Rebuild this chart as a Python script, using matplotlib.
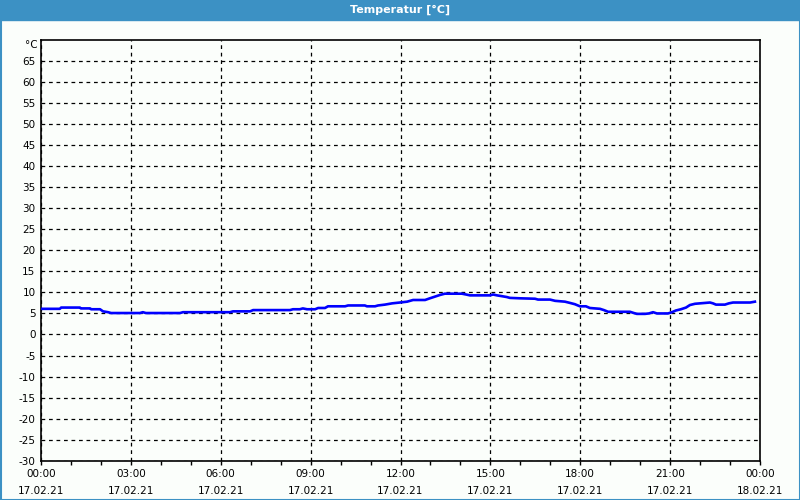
import matplotlib.pyplot as plt
from matplotlib.patches import Rectangle

# hours since 17.02.21 00:00 and temperature in degC
hours = [0.0, 0.63, 0.67, 1.30, 1.33, 1.64, 1.67, 1.97, 2.07, 2.24, 2.34,
         3.30, 3.40, 3.50, 4.64, 4.74, 6.31, 6.41, 6.98, 7.08, 8.31, 8.41,
         8.64, 8.74, 8.88, 9.15, 9.25, 9.48, 9.58, 10.15, 10.25, 10.81,
         10.88, 11.15, 11.25, 11.48, 11.72, 11.98, 12.22, 12.42, 12.82,
         12.98, 13.15, 13.32, 13.48, 14.05, 14.19, 14.32, 14.99, 15.09,
         15.22, 15.39, 15.55, 15.65, 15.99, 16.49, 16.59, 16.99, 17.16,
         17.49, 17.66, 17.82, 17.99, 18.19, 18.32, 18.66, 18.79, 18.93,
         19.66, 19.79, 19.89, 20.16, 20.29, 20.43, 20.56, 20.93, 21.06,
         21.19, 21.36, 21.53, 21.66, 21.83, 22.33, 22.43, 22.53, 22.83,
         22.96, 23.10, 23.67, 23.83]
temps = [6.1, 6.1, 6.4, 6.4, 6.2, 6.2, 6.0, 6.0, 5.5, 5.3, 5.1,
         5.1, 5.3, 5.1, 5.1, 5.3, 5.3, 5.5, 5.5, 5.8, 5.8, 6.0,
         6.0, 6.2, 6.0, 6.0, 6.3, 6.3, 6.7, 6.7, 6.9, 6.9,
         6.7, 6.7, 6.9, 7.1, 7.4, 7.6, 7.8, 8.2, 8.2,
         8.6, 9.0, 9.4, 9.7, 9.7, 9.5, 9.3, 9.3, 9.5,
         9.3, 9.1, 8.9, 8.7, 8.6, 8.5, 8.3, 8.3, 8.0,
         7.8, 7.5, 7.2, 6.7, 6.7, 6.3, 6.1, 5.8, 5.4,
         5.4, 5.1, 4.9, 4.9, 5.0, 5.3, 5.0, 5.0, 5.3,
         5.7, 6.0, 6.4, 7.0, 7.3, 7.6, 7.4, 7.1, 7.1,
         7.4, 7.6, 7.6, 7.8]

xtick_pos = [0, 3, 6, 9, 12, 15, 18, 21, 24]
xtick_labels = ['00:00\n17.02.21', '03:00\n17.02.21', '06:00\n17.02.21',
                '09:00\n17.02.21', '12:00\n17.02.21', '15:00\n17.02.21',
                '18:00\n17.02.21', '21:00\n17.02.21', '00:00\n18.02.21']
ytick_pos = list(range(-30, 70, 5))

bar_blue = '#3c91c4'
bg = '#fbfefb'

plt.rcParams['font.family'] = ['DejaVu Sans']
fig = plt.figure(figsize=(8, 5), dpi=100, facecolor=bg)

# title bar and frame
fig.patches.append(Rectangle((0, 480 / 500), 1, 20 / 500, transform=fig.transFigure,
                             color=bar_blue, zorder=0))
fig.patches.append(Rectangle((0.5 / 800, 0.5 / 500), 799 / 800, 499 / 500,
                             transform=fig.transFigure, fill=False,
                             edgecolor=bar_blue, lw=1.5, zorder=1))
fig.text(0.5, 490 / 500, 'Temperatur [°C]', color='white', fontsize=8,
         fontweight='bold', ha='center', va='center')

ax = fig.add_axes([41 / 800, 39.3 / 500, 719 / 800, 420.7 / 500])
ax.set_facecolor(bg)
ax.plot(hours, temps, color='#0000ff', lw=1.9, zorder=3)

ax.set_xlim(0, 24)
ax.set_ylim(-30, 70)
ax.set_xticks(xtick_pos)
ax.set_xticklabels(xtick_labels, fontsize=7.5, linespacing=1.9)
ax.set_xticks(range(0, 25), minor=True)
ax.set_yticks(ytick_pos)
ax.set_yticklabels([str(v) for v in ytick_pos], fontsize=7.5)
ax.tick_params(axis='y', length=0, pad=4)
ax.tick_params(axis='x', which='both', length=3, width=1, direction='out', pad=3)
ax.text(-0.004, 70, '°C', transform=ax.get_yaxis_transform(), fontsize=7.5,
        ha='right', va='top')

ax.grid(True, which='major', color='black', lw=0.9, linestyle=(0, (3, 3)))
for s in ax.spines.values():
    s.set_linewidth(1.2)
    s.set_color('black')

fig.savefig('out.png', dpi=100, facecolor=bg)
